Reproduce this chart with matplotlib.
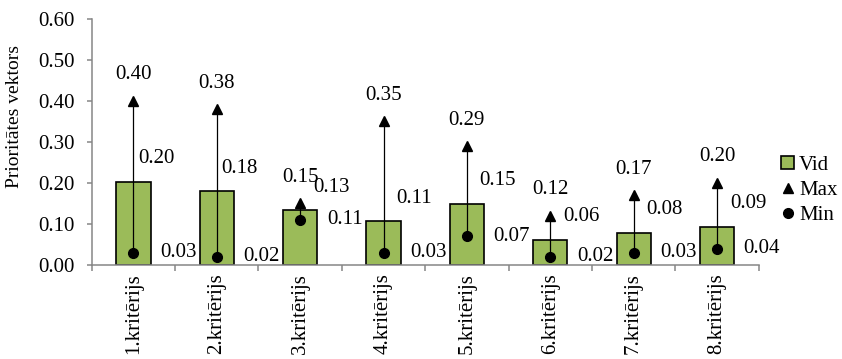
import matplotlib

matplotlib.use("Agg")
import matplotlib.pyplot as plt
from matplotlib.lines import Line2D
from matplotlib.patches import Patch

categories = [f"{i}.kritērijs" for i in range(1, 9)]
vid = [0.20, 0.18, 0.13, 0.11, 0.15, 0.06, 0.08, 0.09]
vid_bar = [0.203, 0.180, 0.134, 0.106, 0.149, 0.061, 0.079, 0.093]
vmax = [0.40, 0.38, 0.15, 0.35, 0.29, 0.12, 0.17, 0.20]
vmin = [0.03, 0.02, 0.11, 0.03, 0.07, 0.02, 0.03, 0.04]
yticks = [0.0, 0.1, 0.2, 0.3, 0.4, 0.5, 0.6]

plt.rcParams["font.family"] = ["Liberation Serif", "DejaVu Serif"]
GREEN = "#9BBB59"
AXIS = "#868686"
FS = 15

fig = plt.figure(figsize=(8.42, 3.59), dpi=100)
ax = fig.add_axes([0.109, 0.262, 0.792, 0.685])

x = list(range(len(categories)))
ax.bar(x, vid_bar, width=0.41, color=GREEN, edgecolor="black", linewidth=1.2, zorder=2)
ax.vlines(x, vmin, vmax, color="black", linewidth=0.9, zorder=3)
ax.plot(x, vmax, linestyle="none", marker="^", color="black", markersize=7, zorder=4)
ax.plot(x, vmin, linestyle="none", marker="o", color="black", markersize=7, zorder=4)

# labels placed like Excel does: max above, mean right of bar top, min right of point
for xi, v, hi, lo, vb in zip(x, vid, vmax, vmin, vid_bar):
    ax.annotate(f"{hi:.2f}", (xi, hi), xytext=(0, 26), textcoords="offset pixels",
                ha="center", va="center", fontsize=FS)
    dx = 23 if xi < 2 else 31
    ax.annotate(f"{v:.2f}", (xi, vb), xytext=(dx, 23), textcoords="offset pixels",
                ha="center", va="center", fontsize=FS)
    ax.annotate(f"{lo:.2f}", (xi, lo), xytext=(45, 0), textcoords="offset pixels",
                ha="center", va="center", fontsize=FS)

ax.set_xlim(-0.5, len(categories) - 0.5)
ax.set_ylim(0, 0.6)
ax.set_yticks(yticks)
ax.set_yticklabels([f"{t:.2f}" for t in yticks], fontsize=FS)
ax.set_xticks(x)
ax.set_xticklabels(categories, rotation=90, fontsize=FS)
ax.set_xticks([i - 0.5 for i in range(len(categories) + 1)], minor=True)
ax.tick_params(axis="x", which="major", length=0, pad=6)
ax.tick_params(axis="x", which="minor", length=4.5, color=AXIS, width=1.1)
ax.tick_params(axis="y", length=3.5, color=AXIS, width=1.1, pad=9)

for side in ["top", "right"]:
    ax.spines[side].set_visible(False)
for side in ["left", "bottom"]:
    ax.spines[side].set_color(AXIS)
    ax.spines[side].set_linewidth(1.1)

fig.text(15 / 842, 1 - 117 / 359, "Prioritātes vektors", rotation=90,
         ha="center", va="center", fontsize=14)

handles = [
    Patch(facecolor=GREEN, edgecolor="black", linewidth=1.2, label="Vid"),
    Line2D([], [], linestyle="none", marker="^", color="black", markersize=7, label="Max"),
    Line2D([], [], linestyle="none", marker="o", color="black", markersize=7, label="Min"),
]
fig.legend(handles=handles, loc="center left", bbox_to_anchor=(0.928, 0.47), frameon=False,
           fontsize=FS, handlelength=0.6, handleheight=0.6, handletextpad=0.25,
           labelspacing=0.3, borderaxespad=0, borderpad=0)

fig.savefig("out.png", dpi=100)
